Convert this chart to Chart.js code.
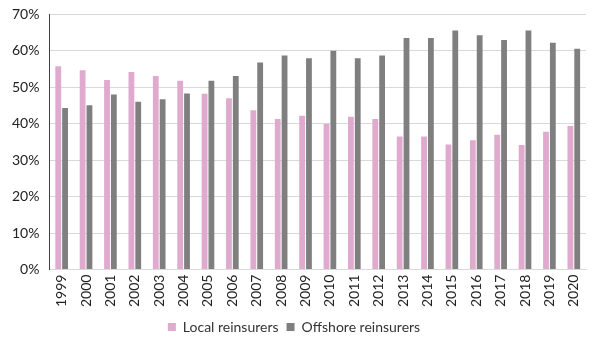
<!DOCTYPE html>
<html>
<head>
<meta charset="utf-8">
<script src="https://cdn.jsdelivr.net/npm/chart.js@4.4.0/dist/chart.umd.min.js"></script>
<style>
  html, body { margin: 0; padding: 0; background: #fff; overflow: hidden; }
  #wrap { width: 600px; height: 348px; margin-top: -4px; }
</style>
</head>
<body>
<div id="wrap"><canvas id="my-chart"></canvas></div>
<script>
const years = ['1999', '2000', '2001', '2002', '2003', '2004', '2005', '2006', '2007', '2008', '2009',
  '2010', '2011', '2012', '2013', '2014', '2015', '2016', '2017', '2018', '2019', '2020'];

const localShare = [55.8, 54.7, 52.0, 54.2, 53.1, 51.8, 48.2, 47.0, 43.7, 41.3, 42.2,
  40.0, 41.9, 41.3, 36.5, 36.5, 34.3, 35.5, 37.0, 34.2, 37.8, 39.4];

const offshoreShare = [44.3, 45.1, 48.0, 46.0, 46.7, 48.3, 51.8, 53.1, 56.8, 58.7, 58.0,
  60.0, 58.0, 58.7, 63.5, 63.5, 65.6, 64.3, 63.0, 65.6, 62.2, 60.6];

const yTicks = [0, 10, 20, 30, 40, 50, 60, 70];

const ctx = document.getElementById('my-chart').getContext('2d');

new Chart(ctx, {
  type: 'bar',
  data: {
    labels: years,
    datasets: [
      {
        label: 'Local reinsurers',
        backgroundColor: 'rgb(223, 170, 205)',
        data: localShare
      },
      {
        label: 'Offshore reinsurers',
        backgroundColor: 'rgb(127, 127, 127)',
        data: offshoreShare
      }
    ]
  },
  options: {
    responsive: true,
    maintainAspectRatio: false,
    animation: false,
    layout: { padding: { left: 2, right: 14, top: 0, bottom: 0 } },
    datasets: {
      bar: { categoryPercentage: 0.56, barPercentage: 0.85 }
    },
    plugins: {
      legend: {
        position: 'bottom',
        labels: {
          font: { family: 'Lato', size: 14 },
          color: '#333',
          boxWidth: 8,
          boxHeight: 8,
          padding: 8
        }
      },
      tooltip: { enabled: false }
    },
    scales: {
      x: {
        grid: { display: false, drawTicks: false },
        border: { color: '#d9d9d9' },
        ticks: {
          font: { family: 'Lato', size: 14 },
          color: '#222',
          maxRotation: 90,
          minRotation: 90,
          padding: 5
        }
      },
      y: {
        min: 0,
        max: 70,
        afterBuildTicks: axis => { axis.ticks = yTicks.map(v => ({ value: v })); },
        grid: { color: '#d9d9d9', drawTicks: false },
        border: { color: '#404040' },
        ticks: {
          font: { family: 'Lato', size: 14 },
          color: '#222',
          padding: 10,
          callback: v => v + '%'
        }
      }
    }
  }
});
</script>
</body>
</html>
